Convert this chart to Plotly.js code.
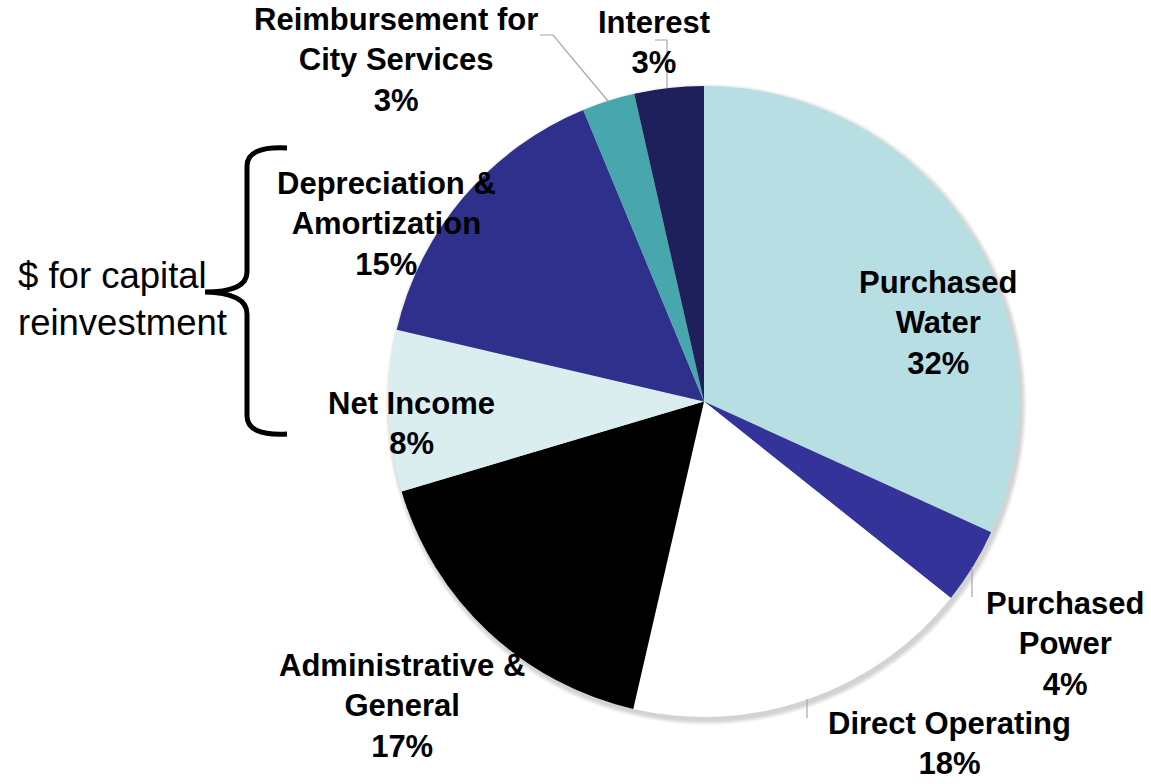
<!DOCTYPE html>
<html>
<head>
<meta charset="utf-8">
<script src="https://cdn.plot.ly/plotly-3.0.1.min.js"></script>
<style>
  html, body { margin: 0; padding: 0; background: #ffffff; }
  #chart { width: 1151px; height: 784px; }
</style>
</head>
<body>
<div id="chart"></div>
<script>
// ---- data ----
const categories = [
  "Purchased Water", "Purchased Power", "Direct Operating", "Administrative & General",
  "Net Income", "Depreciation & Amortization", "Reimbursement for City Services", "Interest"
];
const shares = [31.8, 3.9, 17.9, 16.8, 8.25, 15.1, 2.7, 3.55];
const percentLabels = ["32%", "4%", "18%", "17%", "8%", "15%", "3%", "3%"];
const labelLines = [
  ["Purchased", "Water"],
  ["Purchased", "Power"],
  ["Direct Operating"],
  ["Administrative &", "General"],
  ["Net Income"],
  ["Depreciation &", "Amortization"],
  ["Reimbursement for", "City Services"],
  ["Interest"]
];
const sliceColors = ["#B7DEE2", "#333399", "#FFFFFF", "#000000", "#DAEEF0", "#2F2F8C", "#47A7AD", "#1F1F5B"];
const bracketText = ["$ for capital", "reinvestment"];

// ---- layout helpers (pixel -> paper) ----
const W = 1151, H = 784;
const px = x => x / W;
const py = y => 1 - y / H;
const CX = 704, CY = 401.5, R = 315.5;

const labelPos = [
  [938, 323], [1065, 644], [949, 743], [402, 706],
  [411, 423], [386, 224], [396, 60], [654, 42]
];

const annotations = categories.map((c, i) => ({
  xref: "paper", yref: "paper",
  x: px(labelPos[i][0]), y: py(labelPos[i][1]),
  xanchor: "center", yanchor: "middle", align: "center",
  showarrow: false,
  text: labelLines[i].concat([percentLabels[i]]).map(s => "<b>" + s.replace(/&/g, "&amp;") + "</b>").join("<br>"),
  font: { family: "Liberation Sans, Arial, sans-serif", size: 31, color: "#000000" }
}));
annotations.push({
  xref: "paper", yref: "paper",
  x: px(16), y: py(299),
  xanchor: "left", yanchor: "middle", align: "left",
  showarrow: false,
  text: bracketText.join("<br>"),
  font: { family: "Liberation Sans, Arial, sans-serif", size: 36.5, color: "#000000" }
});

function pathFrom(cmds) {
  return cmds.map(c => {
    const op = c[0];
    const pts = [];
    for (let k = 1; k < c.length; k += 2) pts.push(px(c[k]) + "," + py(c[k + 1]));
    return op + " " + pts.join(" ");
  }).join(" ");
}

const shapes = [];
// soft shadow behind the pie
for (let k = 1; k <= 5; k++) {
  shapes.push({
    type: "circle", xref: "paper", yref: "paper", layer: "below",
    x0: px(CX + 2 - R - k), x1: px(CX + 2 + R + k),
    y0: py(CY + 3 + R + k), y1: py(CY + 3 - R - k),
    fillcolor: "rgba(0,0,0,0.035)", line: { width: 0 }
  });
}
// leader lines
const leaderColor = "#A6A6A6";
shapes.push({ type: "path", xref: "paper", yref: "paper", layer: "above",
  path: pathFrom([["M", 540, 35], ["L", 553, 35], ["L", 608, 101]]),
  line: { color: leaderColor, width: 1.2 } });
shapes.push({ type: "path", xref: "paper", yref: "paper", layer: "above",
  path: pathFrom([["M", 655, 40], ["L", 667, 40], ["L", 667, 88]]),
  line: { color: leaderColor, width: 1.2 } });
shapes.push({ type: "path", xref: "paper", yref: "paper", layer: "above",
  path: pathFrom([["M", 972, 567], ["L", 972, 597]]),
  line: { color: leaderColor, width: 1.2 } });
shapes.push({ type: "path", xref: "paper", yref: "paper", layer: "above",
  path: pathFrom([["M", 807, 699], ["L", 807, 718]]),
  line: { color: leaderColor, width: 1.2 } });
// curly bracket
shapes.push({ type: "path", xref: "paper", yref: "paper", layer: "above",
  path: pathFrom([
    ["M", 287, 148], ["Q", 247, 146, 247, 166], ["L", 247, 272],
    ["Q", 247, 292, 205, 292], ["Q", 247, 293, 247, 314], ["L", 247, 416],
    ["Q", 247, 436, 287, 434]
  ]),
  line: { color: "#000000", width: 5 } });

const data = [{
  type: "pie",
  labels: categories,
  values: shares,
  sort: false,
  direction: "clockwise",
  rotation: 0,
  textinfo: "none",
  hoverinfo: "skip",
  marker: { colors: sliceColors, line: { width: 0 } },
  domain: { x: [px(CX - R), px(CX + R)], y: [py(CY + R), py(CY - R)] },
  showlegend: false
}];

const layout = {
  width: W, height: H,
  margin: { l: 0, r: 0, t: 0, b: 0 },
  paper_bgcolor: "#ffffff",
  plot_bgcolor: "#ffffff",
  showlegend: false,
  annotations: annotations,
  shapes: shapes
};

Plotly.newPlot("chart", data, layout, { displayModeBar: false, staticPlot: true });
</script>
</body>
</html>
